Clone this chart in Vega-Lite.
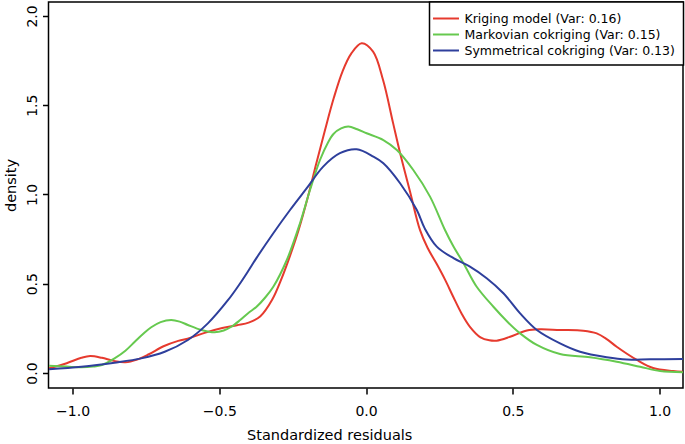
{
  "$schema": "https://vega.github.io/schema/vega-lite/v6.json",
  "width": 634.5,
  "height": 386,
  "autosize": "none",
  "padding": {"left": 48.5, "top": 2, "right": 2, "bottom": 56},
  "background": "white",
  "config": {
    "view": {"stroke": "black", "strokeWidth": 1.5},
    "font": "DejaVu Sans"
  },
  "data": {
    "values": [
      {"m": "Kriging model (Var: 0.16)", "x": -1.08, "y": 0.027},
      {"m": "Kriging model (Var: 0.16)", "x": -1.02, "y": 0.055},
      {"m": "Kriging model (Var: 0.16)", "x": -0.97, "y": 0.085},
      {"m": "Kriging model (Var: 0.16)", "x": -0.94, "y": 0.095},
      {"m": "Kriging model (Var: 0.16)", "x": -0.9, "y": 0.085},
      {"m": "Kriging model (Var: 0.16)", "x": -0.86, "y": 0.068},
      {"m": "Kriging model (Var: 0.16)", "x": -0.82, "y": 0.06},
      {"m": "Kriging model (Var: 0.16)", "x": -0.78, "y": 0.075},
      {"m": "Kriging model (Var: 0.16)", "x": -0.74, "y": 0.105},
      {"m": "Kriging model (Var: 0.16)", "x": -0.69, "y": 0.15},
      {"m": "Kriging model (Var: 0.16)", "x": -0.64, "y": 0.18},
      {"m": "Kriging model (Var: 0.16)", "x": -0.6, "y": 0.196},
      {"m": "Kriging model (Var: 0.16)", "x": -0.55, "y": 0.225},
      {"m": "Kriging model (Var: 0.16)", "x": -0.49, "y": 0.252},
      {"m": "Kriging model (Var: 0.16)", "x": -0.44, "y": 0.268},
      {"m": "Kriging model (Var: 0.16)", "x": -0.4, "y": 0.282},
      {"m": "Kriging model (Var: 0.16)", "x": -0.36, "y": 0.318},
      {"m": "Kriging model (Var: 0.16)", "x": -0.32, "y": 0.41},
      {"m": "Kriging model (Var: 0.16)", "x": -0.29, "y": 0.52},
      {"m": "Kriging model (Var: 0.16)", "x": -0.26, "y": 0.652},
      {"m": "Kriging model (Var: 0.16)", "x": -0.23, "y": 0.8},
      {"m": "Kriging model (Var: 0.16)", "x": -0.2, "y": 0.975},
      {"m": "Kriging model (Var: 0.16)", "x": -0.17, "y": 1.17},
      {"m": "Kriging model (Var: 0.16)", "x": -0.14, "y": 1.36},
      {"m": "Kriging model (Var: 0.16)", "x": -0.11, "y": 1.54},
      {"m": "Kriging model (Var: 0.16)", "x": -0.08, "y": 1.69},
      {"m": "Kriging model (Var: 0.16)", "x": -0.05, "y": 1.79},
      {"m": "Kriging model (Var: 0.16)", "x": -0.015, "y": 1.847},
      {"m": "Kriging model (Var: 0.16)", "x": 0.024, "y": 1.8},
      {"m": "Kriging model (Var: 0.16)", "x": 0.058, "y": 1.641},
      {"m": "Kriging model (Var: 0.16)", "x": 0.092, "y": 1.401},
      {"m": "Kriging model (Var: 0.16)", "x": 0.116, "y": 1.232},
      {"m": "Kriging model (Var: 0.16)", "x": 0.15, "y": 1.015},
      {"m": "Kriging model (Var: 0.16)", "x": 0.184, "y": 0.8},
      {"m": "Kriging model (Var: 0.16)", "x": 0.21, "y": 0.7},
      {"m": "Kriging model (Var: 0.16)", "x": 0.241, "y": 0.61},
      {"m": "Kriging model (Var: 0.16)", "x": 0.27, "y": 0.52},
      {"m": "Kriging model (Var: 0.16)", "x": 0.297, "y": 0.427},
      {"m": "Kriging model (Var: 0.16)", "x": 0.325, "y": 0.335},
      {"m": "Kriging model (Var: 0.16)", "x": 0.354, "y": 0.259},
      {"m": "Kriging model (Var: 0.16)", "x": 0.39, "y": 0.2},
      {"m": "Kriging model (Var: 0.16)", "x": 0.42, "y": 0.183},
      {"m": "Kriging model (Var: 0.16)", "x": 0.445, "y": 0.181},
      {"m": "Kriging model (Var: 0.16)", "x": 0.491, "y": 0.203},
      {"m": "Kriging model (Var: 0.16)", "x": 0.548, "y": 0.238},
      {"m": "Kriging model (Var: 0.16)", "x": 0.593, "y": 0.245},
      {"m": "Kriging model (Var: 0.16)", "x": 0.661, "y": 0.241},
      {"m": "Kriging model (Var: 0.16)", "x": 0.74, "y": 0.237},
      {"m": "Kriging model (Var: 0.16)", "x": 0.786, "y": 0.222},
      {"m": "Kriging model (Var: 0.16)", "x": 0.82, "y": 0.19},
      {"m": "Kriging model (Var: 0.16)", "x": 0.854, "y": 0.147},
      {"m": "Kriging model (Var: 0.16)", "x": 0.923, "y": 0.073},
      {"m": "Kriging model (Var: 0.16)", "x": 0.978, "y": 0.028},
      {"m": "Kriging model (Var: 0.16)", "x": 1.046, "y": 0.011},
      {"m": "Kriging model (Var: 0.16)", "x": 1.08, "y": 0.007},

      {"m": "Markovian cokriging (Var: 0.15)", "x": -1.08, "y": 0.041},
      {"m": "Markovian cokriging (Var: 0.15)", "x": -1.02, "y": 0.036},
      {"m": "Markovian cokriging (Var: 0.15)", "x": -0.97, "y": 0.032},
      {"m": "Markovian cokriging (Var: 0.15)", "x": -0.93, "y": 0.036},
      {"m": "Markovian cokriging (Var: 0.15)", "x": -0.9, "y": 0.045},
      {"m": "Markovian cokriging (Var: 0.15)", "x": -0.857, "y": 0.082},
      {"m": "Markovian cokriging (Var: 0.15)", "x": -0.82, "y": 0.125},
      {"m": "Markovian cokriging (Var: 0.15)", "x": -0.788, "y": 0.175},
      {"m": "Markovian cokriging (Var: 0.15)", "x": -0.76, "y": 0.218},
      {"m": "Markovian cokriging (Var: 0.15)", "x": -0.732, "y": 0.256},
      {"m": "Markovian cokriging (Var: 0.15)", "x": -0.7, "y": 0.285},
      {"m": "Markovian cokriging (Var: 0.15)", "x": -0.664, "y": 0.297},
      {"m": "Markovian cokriging (Var: 0.15)", "x": -0.635, "y": 0.288},
      {"m": "Markovian cokriging (Var: 0.15)", "x": -0.607, "y": 0.269},
      {"m": "Markovian cokriging (Var: 0.15)", "x": -0.561, "y": 0.241},
      {"m": "Markovian cokriging (Var: 0.15)", "x": -0.516, "y": 0.228},
      {"m": "Markovian cokriging (Var: 0.15)", "x": -0.485, "y": 0.238},
      {"m": "Markovian cokriging (Var: 0.15)", "x": -0.459, "y": 0.259},
      {"m": "Markovian cokriging (Var: 0.15)", "x": -0.43, "y": 0.295},
      {"m": "Markovian cokriging (Var: 0.15)", "x": -0.402, "y": 0.335},
      {"m": "Markovian cokriging (Var: 0.15)", "x": -0.373, "y": 0.371},
      {"m": "Markovian cokriging (Var: 0.15)", "x": -0.345, "y": 0.42},
      {"m": "Markovian cokriging (Var: 0.15)", "x": -0.316, "y": 0.483},
      {"m": "Markovian cokriging (Var: 0.15)", "x": -0.27, "y": 0.633},
      {"m": "Markovian cokriging (Var: 0.15)", "x": -0.225, "y": 0.839},
      {"m": "Markovian cokriging (Var: 0.15)", "x": -0.191, "y": 1.025},
      {"m": "Markovian cokriging (Var: 0.15)", "x": -0.157, "y": 1.193},
      {"m": "Markovian cokriging (Var: 0.15)", "x": -0.13, "y": 1.29},
      {"m": "Markovian cokriging (Var: 0.15)", "x": -0.111, "y": 1.339},
      {"m": "Markovian cokriging (Var: 0.15)", "x": -0.085, "y": 1.37},
      {"m": "Markovian cokriging (Var: 0.15)", "x": -0.06, "y": 1.38},
      {"m": "Markovian cokriging (Var: 0.15)", "x": -0.03, "y": 1.365},
      {"m": "Markovian cokriging (Var: 0.15)", "x": 0.002, "y": 1.343},
      {"m": "Markovian cokriging (Var: 0.15)", "x": 0.059, "y": 1.305},
      {"m": "Markovian cokriging (Var: 0.15)", "x": 0.105, "y": 1.249},
      {"m": "Markovian cokriging (Var: 0.15)", "x": 0.161, "y": 1.137},
      {"m": "Markovian cokriging (Var: 0.15)", "x": 0.218, "y": 0.988},
      {"m": "Markovian cokriging (Var: 0.15)", "x": 0.269, "y": 0.801},
      {"m": "Markovian cokriging (Var: 0.15)", "x": 0.298, "y": 0.708},
      {"m": "Markovian cokriging (Var: 0.15)", "x": 0.332, "y": 0.615},
      {"m": "Markovian cokriging (Var: 0.15)", "x": 0.377, "y": 0.483},
      {"m": "Markovian cokriging (Var: 0.15)", "x": 0.434, "y": 0.371},
      {"m": "Markovian cokriging (Var: 0.15)", "x": 0.48, "y": 0.29},
      {"m": "Markovian cokriging (Var: 0.15)", "x": 0.525, "y": 0.222},
      {"m": "Markovian cokriging (Var: 0.15)", "x": 0.582, "y": 0.157},
      {"m": "Markovian cokriging (Var: 0.15)", "x": 0.661, "y": 0.106},
      {"m": "Markovian cokriging (Var: 0.15)", "x": 0.763, "y": 0.088},
      {"m": "Markovian cokriging (Var: 0.15)", "x": 0.854, "y": 0.063},
      {"m": "Markovian cokriging (Var: 0.15)", "x": 0.934, "y": 0.035},
      {"m": "Markovian cokriging (Var: 0.15)", "x": 1.002, "y": 0.011},
      {"m": "Markovian cokriging (Var: 0.15)", "x": 1.08, "y": 0.004},

      {"m": "Symmetrical cokriging (Var: 0.13)", "x": -1.08, "y": 0.021},
      {"m": "Symmetrical cokriging (Var: 0.13)", "x": -0.97, "y": 0.035},
      {"m": "Symmetrical cokriging (Var: 0.13)", "x": -0.857, "y": 0.058},
      {"m": "Symmetrical cokriging (Var: 0.13)", "x": -0.766, "y": 0.082},
      {"m": "Symmetrical cokriging (Var: 0.13)", "x": -0.686, "y": 0.119},
      {"m": "Symmetrical cokriging (Var: 0.13)", "x": -0.607, "y": 0.185},
      {"m": "Symmetrical cokriging (Var: 0.13)", "x": -0.539, "y": 0.278},
      {"m": "Symmetrical cokriging (Var: 0.13)", "x": -0.47, "y": 0.409},
      {"m": "Symmetrical cokriging (Var: 0.13)", "x": -0.43, "y": 0.5},
      {"m": "Symmetrical cokriging (Var: 0.13)", "x": -0.402, "y": 0.57},
      {"m": "Symmetrical cokriging (Var: 0.13)", "x": -0.373, "y": 0.645},
      {"m": "Symmetrical cokriging (Var: 0.13)", "x": -0.316, "y": 0.783},
      {"m": "Symmetrical cokriging (Var: 0.13)", "x": -0.259, "y": 0.913},
      {"m": "Symmetrical cokriging (Var: 0.13)", "x": -0.202, "y": 1.035},
      {"m": "Symmetrical cokriging (Var: 0.13)", "x": -0.146, "y": 1.156},
      {"m": "Symmetrical cokriging (Var: 0.13)", "x": -0.089, "y": 1.231},
      {"m": "Symmetrical cokriging (Var: 0.13)", "x": -0.032, "y": 1.253},
      {"m": "Symmetrical cokriging (Var: 0.13)", "x": 0.025, "y": 1.212},
      {"m": "Symmetrical cokriging (Var: 0.13)", "x": 0.059, "y": 1.175},
      {"m": "Symmetrical cokriging (Var: 0.13)", "x": 0.116, "y": 1.063},
      {"m": "Symmetrical cokriging (Var: 0.13)", "x": 0.173, "y": 0.913},
      {"m": "Symmetrical cokriging (Var: 0.13)", "x": 0.2, "y": 0.81},
      {"m": "Symmetrical cokriging (Var: 0.13)", "x": 0.241, "y": 0.708},
      {"m": "Symmetrical cokriging (Var: 0.13)", "x": 0.298, "y": 0.643},
      {"m": "Symmetrical cokriging (Var: 0.13)", "x": 0.354, "y": 0.596},
      {"m": "Symmetrical cokriging (Var: 0.13)", "x": 0.411, "y": 0.531},
      {"m": "Symmetrical cokriging (Var: 0.13)", "x": 0.468, "y": 0.447},
      {"m": "Symmetrical cokriging (Var: 0.13)", "x": 0.525, "y": 0.334},
      {"m": "Symmetrical cokriging (Var: 0.13)", "x": 0.582, "y": 0.241},
      {"m": "Symmetrical cokriging (Var: 0.13)", "x": 0.661, "y": 0.166},
      {"m": "Symmetrical cokriging (Var: 0.13)", "x": 0.729, "y": 0.119},
      {"m": "Symmetrical cokriging (Var: 0.13)", "x": 0.82, "y": 0.088},
      {"m": "Symmetrical cokriging (Var: 0.13)", "x": 0.889, "y": 0.075},
      {"m": "Symmetrical cokriging (Var: 0.13)", "x": 0.968, "y": 0.077},
      {"m": "Symmetrical cokriging (Var: 0.13)", "x": 1.08, "y": 0.078}
    ]
  },
  "mark": {"type": "line", "interpolate": "catmull-rom", "strokeWidth": 2, "clip": true},
  "encoding": {
    "x": {
      "field": "x", "type": "quantitative",
      "scale": {"domain": [-1.082, 1.08], "nice": false, "zero": false},
      "axis": {
        "title": "Standardized residuals",
        "values": [-1, -0.5, 0, 0.5, 1],
        "format": ".1f",
        "grid": false, "domain": false,
        "tickColor": "black", "tickWidth": 1.5, "tickSize": 6,
        "labelFontSize": 14, "labelColor": "black", "labelPadding": 10,
        "labelFont": "DejaVu Sans",
        "titleFont": "DejaVu Sans", "titleFontSize": 14.5, "titleFontWeight": "normal",
        "titleColor": "black",
        "titleAlign": "left", "titleAnchor": "start", "titleBaseline": "alphabetic",
        "titleX": 198, "titleY": 51
      }
    },
    "y": {
      "field": "y", "type": "quantitative",
      "scale": {"domain": [-0.084, 2.078], "nice": false, "zero": false},
      "axis": {
        "title": "density",
        "values": [0, 0.5, 1, 1.5, 2],
        "format": ".1f",
        "grid": false, "domain": false,
        "tickColor": "black", "tickWidth": 1.5, "tickSize": 6,
        "labelFontSize": 14, "labelColor": "black", "labelPadding": 6.5,
        "labelFont": "DejaVu Sans",
        "labelAngle": -90, "labelAlign": "center", "labelBaseline": "alphabetic",
        "titleFont": "DejaVu Sans", "titleFontSize": 14.5, "titleFontWeight": "normal",
        "titleColor": "black",
        "titleAngle": -90, "titleAlign": "center", "titleBaseline": "alphabetic",
        "titleX": -33.5, "titleY": 183
      }
    },
    "color": {
      "field": "m", "type": "nominal",
      "scale": {
        "domain": ["Kriging model (Var: 0.16)", "Markovian cokriging (Var: 0.15)", "Symmetrical cokriging (Var: 0.13)"],
        "range": ["#e63a2e", "#66c94f", "#2e3f9c"]
      },
      "legend": {
        "title": null,
        "orient": "top-right",
        "offset": 0,
        "strokeColor": "black",
        "fillColor": "white",
        "padding": 8,
        "symbolType": "M-1.73,0H1.73",
        "symbolSize": 225,
        "symbolStrokeWidth": 2,
        "labelFont": "DejaVu Sans",
        "labelFontSize": 12.5,
        "labelColor": "black",
        "labelOffset": 10,
        "rowPadding": 1,
        "labelLimit": 400,
        "encode": {"legend": {"update": {"strokeWidth": {"value": 1.5}}}}
      }
    }
  }
}
